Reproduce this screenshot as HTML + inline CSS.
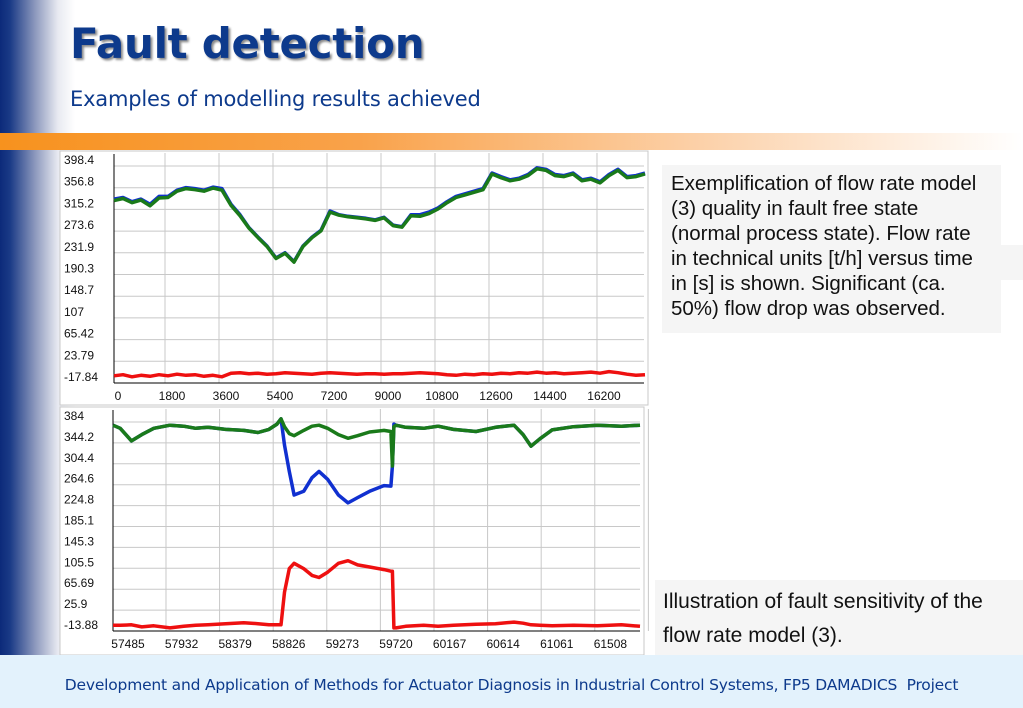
<!DOCTYPE html>
<html><head><meta charset="utf-8">
<style>
html,body{margin:0;padding:0;}
body{width:1023px;height:708px;position:relative;overflow:hidden;background:#fff;font-family:"Liberation Sans",sans-serif;}
#leftbar{position:absolute;left:0;top:0;width:75px;height:655px;background:linear-gradient(to right,#0c2a7a 0px,#1a3a86 10px,#8c98bd 35px,#e8eaf1 58px,#ffffff 75px);}
#orange{position:absolute;left:0;top:133px;width:1023px;height:17px;background:linear-gradient(to right,#f7921e 0%,#f9a24a 35%,#fcd3ad 70%,#ffffff 100%);}
#title{position:absolute;left:70px;top:19px;font-family:"DejaVu Sans",sans-serif;font-weight:bold;font-size:42px;color:#0d3a8c;text-shadow:2px 2px 2px #8a8a8a;letter-spacing:-0.3px;white-space:nowrap;}
#subtitle{position:absolute;left:70px;top:87px;font-family:"DejaVu Sans",sans-serif;font-size:21px;color:#0d3a8c;white-space:nowrap;letter-spacing:-0.2px;}
#footer{position:absolute;left:0;top:655px;width:1023px;height:53px;background:#e3f2fc;}
#footer-text{position:absolute;left:0;width:1023px;top:676px;text-align:center;font-family:"DejaVu Sans",sans-serif;font-size:15.5px;color:#0d3a8c;white-space:nowrap;letter-spacing:-0.2px;}
.box{position:absolute;background:#f5f5f5;font-family:"Liberation Sans",sans-serif;font-size:20.5px;color:#111;}
.box div{white-space:nowrap;height:25px;line-height:25px;}
svg text{font-family:"Liberation Sans",sans-serif;font-size:12px;fill:#111;}
</style></head>
<body>
<div id="leftbar"></div>
<div id="orange"></div>
<div id="title">Fault detection</div>
<div id="subtitle">Examples of modelling results achieved</div>

<svg id="chart" width="1023" height="708" style="position:absolute;left:0;top:0"></svg>

<div class="box" style="left:662px;top:165px;width:339px;height:168px;padding:6px 0 0 9px;box-sizing:border-box;">
<div>Exemplification of flow rate model</div>
<div>(3) quality in fault free state</div>
<div>(normal process state). Flow rate</div>
<div>in technical units [t/h] versus time</div>
<div>in [s] is shown. Significant (ca.</div>
<div>50%) flow drop was observed.</div>
</div>
<div class="box" style="left:1001px;top:245px;width:22px;height:35px;"></div>
<div class="box" style="left:655px;top:580px;width:368px;height:75px;padding:5px 0 0 8px;box-sizing:border-box;font-size:21px;">
<div style="height:34px;line-height:34px">Illustration of fault sensitivity of the</div>
<div style="height:34px;line-height:34px">flow rate model (3).</div>
</div>

<div id="footer"></div>
<div id="footer-text">Development and Application of Methods for Actuator Diagnosis in Industrial Control Systems, FP5 DAMADICS&nbsp; Project</div>

<script>
// ---- top chart data ----
const topTimes = [0,300,600,900,1200,1500,1800,2100,2400,2700,3000,3300,3600,3900,4200,4500,4800,5100,5400,5700,6000,6300,6600,6900,7200,7500,7800,8100,8400,8700,9000,9300,9600,9900,10200,10500,10800,11100,11400,11700,12000,12300,12600,12900,13200,13500,13800,14100,14400,14700,15000,15300,15600,15900,16200,16500,16800,17100,17400,17700];
const topBlue = [335,338,330,335,325,340,340,352,357,355,352,358,355,325,305,280,262,245,222,232,215,245,262,275,312,305,302,300,298,295,300,285,282,305,305,310,318,330,340,345,350,355,385,378,372,375,382,395,392,382,380,385,372,375,368,382,392,378,380,385];
const topGreen = [332,336,328,333,322,337,338,350,355,353,350,356,352,323,303,279,261,244,221,231,214,244,261,274,310,304,301,299,297,294,299,284,281,303,302,307,316,328,338,343,348,353,383,376,370,373,380,393,390,380,378,383,370,373,366,380,390,376,378,383];
const topRed = [-4,-2,-6,-3,-5,-2,-4,-1,-3,-2,-5,-3,-6,1,2,0,1,-1,0,2,1,0,-1,1,2,1,0,-1,0,0,-1,0,0,1,2,1,0,-2,-3,-1,-2,0,-1,1,0,2,1,3,1,2,0,1,2,3,1,4,2,-1,-3,-2];
const topYTicks = ["398.4","356.8","315.2","273.6","231.9","190.3","148.7","107","65.42","23.79","-17.84"];
const topXTicks = [0,1800,3600,5400,7200,9000,10800,12600,14400,16200];

// ---- bottom chart data ----
const botTimes = [57360,57420,57514,57600,57700,57835,57950,58050,58152,58300,58450,58569,58660,58728,58761,58790,58830,58870,58950,59020,59078,59150,59240,59320,59400,59500,59620,59678,59690,59703,59720,59800,59950,60071,60200,60387,60550,60704,60780,60846,60920,61022,61200,61400,61600,61755];
const botBlue = [378,372,348,360,372,378,376,372,374,370,368,364,370,380,390,340,290,245,252,278,290,275,245,230,240,252,263,262,300,380,378,374,372,376,370,366,374,378,360,338,352,369,375,378,376,378];
const botGreen = [378,372,348,360,372,378,376,372,374,370,368,364,370,380,390,375,362,358,368,376,378,372,360,353,358,365,368,366,300,375,378,374,372,376,370,366,374,378,360,338,352,369,375,378,376,378];
const botRed = [-3,-3,-2,-6,-4,-8,-5,-3,-2,0,2,0,-2,-2,-2,60,105,115,105,92,88,98,115,120,112,108,103,100,100,-8,-8,-5,-3,-5,-3,-1,0,3,1,-2,-3,-4,-3,-4,-2,-5];
const botYTicks = ["384","344.2","304.4","264.6","224.8","185.1","145.3","105.5","65.69","25.9","-13.88"];
const botXTicks = [57485,57932,58379,58826,59273,59720,60167,60614,61061,61508];

const svg = document.getElementById('chart');
const NS = 'http://www.w3.org/2000/svg';
function mk(tag, attrs){const e=document.createElementNS(NS,tag);for(const k in attrs)e.setAttribute(k,attrs[k]);svg.appendChild(e);return e;}

function drawChart(cfg){
  const {frame, left, right, top, bottom, xmin, xmax, ymin, ymax, yTicks, xTicks, gridOffset, labelOffset, times, blue, green, red, prefix} = cfg;
  const xs = v => left + (v - xmin) / (xmax - xmin) * (right - left);
  const ys = v => bottom - (v - ymin) / (ymax - ymin) * (bottom - top);
  let f = mk('rect',{x:frame[0],y:frame[1],width:frame[2],height:frame[3],fill:'#fff',stroke:'#c8c8c8'});
  
  
  const n = yTicks.length;
  for(let i=0;i<n;i++){
    const y = top + i*(bottom-top)/(n-1);
    if(i<n-1){
      const g = mk('line',{x1:left,x2:right,y1:y,y2:y,stroke:'#c8c8c8','stroke-width':1});
      
      
    }
    const t = mk('text',{x:frame[0]+4,y:y-2});
    t.textContent = yTicks[i];
    
    
  }
  xTicks.forEach((v,i)=>{
    const x = xs(v);
    if(i>0 || gridOffset>0){
      const g = mk('line',{x1:x+gridOffset,x2:x+gridOffset,y1:frame[1]+2,y2:bottom,stroke:'#c8c8c8','stroke-width':1});
      
      
    }
    const t = mk('text',{x:x+labelOffset,y:bottom+17,'text-anchor':'middle'});
    t.textContent = String(v);
    
    
  });
  let ax = mk('line',{x1:left,x2:left,y1:frame[1]+3,y2:bottom,stroke:'#000','stroke-width':1});
  
  
  ax = mk('line',{x1:left,x2:right,y1:bottom,y2:bottom,stroke:'#000','stroke-width':1});
  
  
  const series = [[blue,'#1030d0',prefix+'-measured-line'],[green,'#1a7a1a',prefix+'-model-line'],[red,'#ee1010',prefix+'-residual-line']];
  series.forEach(([vals,col,name])=>{
    const d = vals.map((v,i)=>(i?'L':'M')+xs(times[i]).toFixed(1)+','+ys(v).toFixed(1)).join(' ');
    const p = mk('path',{d:d,fill:'none',stroke:col,'stroke-width':3.5,'stroke-linejoin':'round'});
    
    
  });
}

drawChart({prefix:'top-chart',frame:[60,151,588,254],left:114,right:644,top:166,bottom:383,
  xmin:0,xmax:17667,ymin:-17.84,ymax:398.4,yTicks:topYTicks,xTicks:topXTicks,gridOffset:-3,labelOffset:4,
  times:topTimes,blue:topBlue,green:topGreen,red:topRed});
drawChart({prefix:'bottom-chart',frame:[60,407,584,248],left:113,right:640,top:422,bottom:631,
  xmin:57360,xmax:61755,ymin:-13.88,ymax:384,yTicks:botYTicks,xTicks:botXTicks,gridOffset:38,labelOffset:0,
  times:botTimes,blue:botBlue,green:botGreen,red:botRed});
</script>
</body></html>
